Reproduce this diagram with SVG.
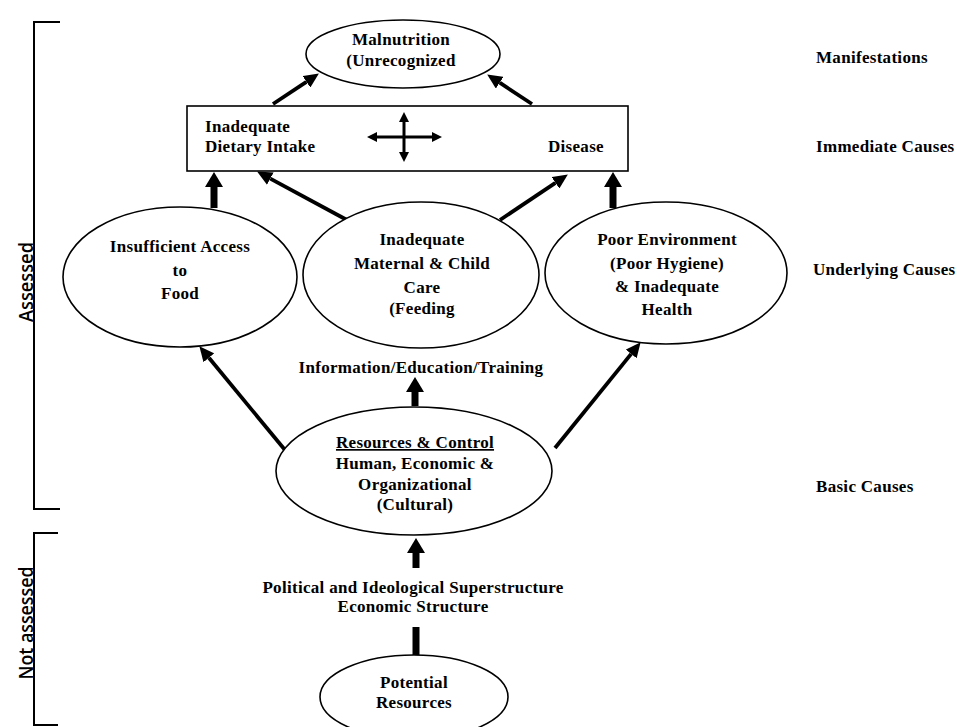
<svg xmlns="http://www.w3.org/2000/svg" width="957" height="727" viewBox="0 0 957 727">
<style>
.t{font-family:"Liberation Serif","Times New Roman",serif;font-weight:bold;font-size:17px;letter-spacing:0.3px;fill:#000;}
.c{text-anchor:middle;}
.side{font-family:"Open Sans","Liberation Sans",sans-serif;font-weight:600;font-size:20px;fill:#000;text-anchor:middle;}
.shape{fill:#fff;stroke:#000;stroke-width:1.6;}
.thin{stroke:#000;stroke-width:3.8;fill:none;marker-end:url(#ah);}
.thick{stroke:#000;stroke-width:7;fill:none;marker-end:url(#ahb);}
.br{stroke:#000;stroke-width:2;fill:none;}
</style>
<defs>
<marker id="ah" markerUnits="userSpaceOnUse" markerWidth="15" markerHeight="14" refX="0" refY="7" orient="auto"><path d="M0,0 L15,7 L0,14 z" fill="#000"/></marker>
<marker id="ahb" markerUnits="userSpaceOnUse" markerWidth="15" markerHeight="18" refX="0" refY="9" orient="auto"><path d="M0,0 L15,9 L0,18 z" fill="#000"/></marker>
<marker id="ahs" markerUnits="userSpaceOnUse" markerWidth="10" markerHeight="10" refX="0" refY="5" orient="auto-start-reverse"><path d="M0,0 L10,5 L0,10 z" fill="#000"/></marker>
</defs>
<rect width="957" height="727" fill="#fff"/>

<g id="brackets">
<path class="br" d="M60,22 H34 V509 H60"/>
<path class="br" d="M58,533 H34 V725 H58"/>
<text class="side" transform="translate(33,282) rotate(-90)" textLength="80" lengthAdjust="spacingAndGlyphs">Assessed</text>
<text class="side" transform="translate(33,623) rotate(-90)" textLength="113" lengthAdjust="spacingAndGlyphs">Not assessed</text>
</g>

<g id="levels">
<text class="t" x="816" y="63">Manifestations</text>
<text class="t" x="816" y="152">Immediate Causes</text>
<text class="t" x="813" y="275">Underlying Causes</text>
<text class="t" x="816" y="492">Basic Causes</text>
</g>

<g id="connectors">
<line class="thin" x1="273" y1="104" x2="306.4" y2="81.8"/>
<line class="thin" x1="532" y1="104" x2="499.7" y2="82.7"/>
<line class="thick" x1="214" y1="208" x2="214" y2="187"/>
<line class="thick" x1="613" y1="208" x2="613" y2="187"/>
<line class="thin" x1="347" y1="220" x2="270.3" y2="178.7"/>
<line class="thin" x1="500" y1="220" x2="555.4" y2="182.8"/>
<line class="thin" x1="285" y1="450" x2="208.9" y2="357.8"/>
<line class="thin" x1="555" y1="448" x2="631.2" y2="353.9"/>
<line class="thick" x1="415" y1="406" x2="415" y2="392"/>
<line class="thick" x1="416" y1="568" x2="416" y2="553"/>
<line stroke="#000" stroke-width="7" x1="416" y1="627" x2="416" y2="656"/>
</g>

<g id="malnutrition">
<ellipse class="shape" cx="403" cy="54" rx="97" ry="34"/>
<text class="t c" x="401" y="45">Malnutrition</text>
<text class="t c" x="401" y="66">(Unrecognized</text>
</g>

<g id="immediate">
<rect class="shape" x="187" y="106" width="441" height="65"/>
<text class="t" x="205" y="132">Inadequate</text>
<text class="t" x="205" y="152">Dietary Intake</text>
<text class="t" x="548" y="152">Disease</text>
<line stroke="#000" stroke-width="3" x1="377" y1="137" x2="432" y2="137" marker-start="url(#ahs)" marker-end="url(#ahs)"/>
<line stroke="#000" stroke-width="3" x1="404" y1="122" x2="404" y2="152" marker-start="url(#ahs)" marker-end="url(#ahs)"/>
</g>

<g id="food">
<ellipse class="shape" cx="180" cy="277" rx="117" ry="70"/>
<text class="t c" x="180" y="252">Insufficient Access</text>
<text class="t c" x="180" y="276">to</text>
<text class="t c" x="180" y="299">Food</text>
</g>

<g id="care">
<ellipse class="shape" cx="421" cy="275" rx="118" ry="73"/>
<text class="t c" x="422" y="245">Inadequate</text>
<text class="t c" x="422" y="269">Maternal &amp; Child</text>
<text class="t c" x="422" y="293">Care</text>
<text class="t c" x="422" y="314">(Feeding</text>
</g>

<g id="environment">
<ellipse class="shape" cx="666" cy="273" rx="121" ry="71"/>
<text class="t c" x="667" y="245">Poor Environment</text>
<text class="t c" x="667" y="269">(Poor Hygiene)</text>
<text class="t c" x="667" y="292">&amp; Inadequate</text>
<text class="t c" x="667" y="315">Health</text>
</g>

<g id="information">
<text class="t c" x="421" y="373">Information/Education/Training</text>
</g>

<g id="resources">
<ellipse class="shape" cx="414" cy="471" rx="138" ry="64"/>
<text class="t c" x="415" y="448" text-decoration="underline">Resources &amp; Control</text>
<text class="t c" x="415" y="469">Human, Economic &amp;</text>
<text class="t c" x="415" y="490">Organizational</text>
<text class="t c" x="415" y="510">(Cultural)</text>
</g>

<g id="superstructure">
<text class="t c" x="413" y="593">Political and Ideological Superstructure</text>
<text class="t c" x="413" y="612">Economic Structure</text>
</g>

<g id="potential">
<ellipse class="shape" cx="414" cy="697" rx="94" ry="42"/>
<text class="t c" x="414" y="688">Potential</text>
<text class="t c" x="414" y="708">Resources</text>
</g>
</svg>
